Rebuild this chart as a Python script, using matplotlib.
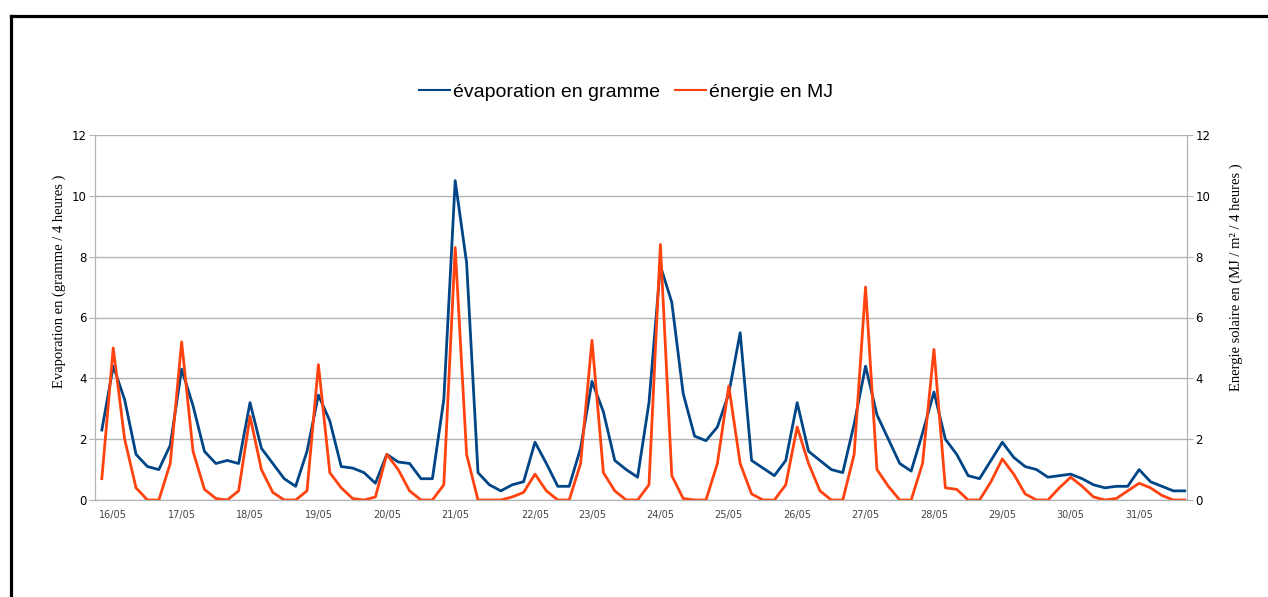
import numpy as np
import matplotlib.pyplot as plt
from matplotlib.lines import Line2D

# dates shown under the curves, and the 4-hour sample they sit under
dates = ['16/05', '17/05', '18/05', '19/05', '20/05', '21/05', '22/05', '23/05',
         '24/05', '25/05', '26/05', '27/05', '28/05', '29/05', '30/05', '31/05']
date_idx = [1, 7, 13, 19, 25, 31, 38, 43, 49, 55, 61, 67, 73, 79, 85, 91]

# evaporation (g / 4 h), one value per 4-hour step
evaporation = [2.3, 4.4, 3.3, 1.5, 1.1, 1.0, 1.8, 4.3, 3.1, 1.6,
               1.2, 1.3, 1.2, 3.2, 1.7, 1.2, 0.7, 0.45, 1.6, 3.45,
               2.6, 1.1, 1.05, 0.9, 0.55, 1.5, 1.25, 1.2, 0.7, 0.7,
               3.3, 10.5, 7.8, 0.9, 0.5, 0.3, 0.5, 0.6, 1.9, 1.2,
               0.45, 0.45, 1.7, 3.9, 2.9, 1.3, 1.0, 0.75, 3.2, 7.7,
               6.5, 3.5, 2.1, 1.95, 2.4, 3.5, 5.5, 1.3, 1.05, 0.8,
               1.3, 3.2, 1.6, 1.3, 1.0, 0.9, 2.5, 4.4, 2.8, 2.0,
               1.2, 0.95, 2.2, 3.55, 2.0, 1.5, 0.8, 0.7, 1.3, 1.9,
               1.4, 1.1, 1.0, 0.75, 0.8, 0.85, 0.7, 0.5, 0.4, 0.45,
               0.45, 1.0, 0.6, 0.45, 0.3, 0.3]

# solar energy (MJ / m2 / 4 h)
energie = [0.7, 5.0, 2.0, 0.4, 0.0, 0.0, 1.2, 5.2, 1.6, 0.35,
           0.05, 0.0, 0.3, 2.75, 1.0, 0.25, 0.0, 0.0, 0.3, 4.45,
           0.9, 0.4, 0.05, 0.0, 0.1, 1.5, 1.0, 0.3, 0.0, 0.0,
           0.5, 8.3, 1.5, 0.0, 0.0, 0.0, 0.1, 0.25, 0.85, 0.3,
           0.0, 0.0, 1.2, 5.25, 0.9, 0.3, 0.0, 0.0, 0.5, 8.4,
           0.8, 0.05, 0.0, 0.0, 1.2, 3.75, 1.2, 0.2, 0.0, 0.0,
           0.5, 2.4, 1.2, 0.3, 0.0, 0.0, 1.5, 7.0, 1.0, 0.45,
           0.0, 0.0, 1.2, 4.95, 0.4, 0.35, 0.0, 0.0, 0.6, 1.35,
           0.85, 0.2, 0.0, 0.0, 0.4, 0.75, 0.45, 0.1, 0.0, 0.05,
           0.3, 0.55, 0.4, 0.15, 0.0, 0.0]

x = np.arange(len(evaporation))
grey = '#b3b3b3'
blue = '#004586'
orange = '#ff420e'

fig = plt.figure(figsize=(12.68, 5.97), dpi=100)
ax = fig.add_axes([95 / 1268, 97 / 597, 1092 / 1268, 365 / 597])
ax2 = ax.twinx()

ax.plot(x, evaporation, color=blue, lw=2.0, solid_joinstyle='round')
ax2.plot(x, energie, color=orange, lw=2.0, solid_joinstyle='round')

for a in (ax, ax2):
    a.set_ylim(0, 12)
    a.set_yticks(range(0, 13, 2))
    a.set_xlim(-0.6, 95.2)
    for s in a.spines.values():
        s.set_color(grey)
    a.spines['top'].set_visible(False)
    a.tick_params(axis='y', length=4, color=grey, labelsize=8.5, pad=2)

ax.grid(axis='y', color=grey, lw=1)
ax.set_axisbelow(True)
ax.set_xticks(date_idx)
ax.set_xticklabels(dates, fontsize=7, color='#444444')
ax.tick_params(axis='x', length=0, pad=7)

ax.set_ylabel('Evaporation en (gramme / 4 heures )', family='Liberation Serif', fontsize=10.5)
ax.yaxis.set_label_coords(-0.027, 0.60)
ax2.set_ylabel('Energie solaire en (MJ / m² / 4 heures )', family='Liberation Serif', fontsize=10.5)
ax2.yaxis.set_label_coords(1.039, 0.61)

handles = [Line2D([], [], color=blue, lw=1.5), Line2D([], [], color=orange, lw=1.5)]
fig.legend(handles, ['évaporation en gramme', 'énergie en MJ'], loc='center',
           bbox_to_anchor=(626 / 1268, 1 - 92 / 597), ncol=2, frameon=False,
           prop={'family': 'Liberation Sans', 'size': 14}, handlelength=1.6,
           handletextpad=0.15, columnspacing=0.8)

# black frame on the top and left edges
fig.add_artist(Line2D([10.5 / 1268, 1], [1 - 15.5 / 597] * 2, color='black', lw=2.3))
fig.add_artist(Line2D([10.5 / 1268] * 2, [0, 1 - 15.5 / 597], color='black', lw=2.3))

fig.savefig('out.png', dpi=100)
